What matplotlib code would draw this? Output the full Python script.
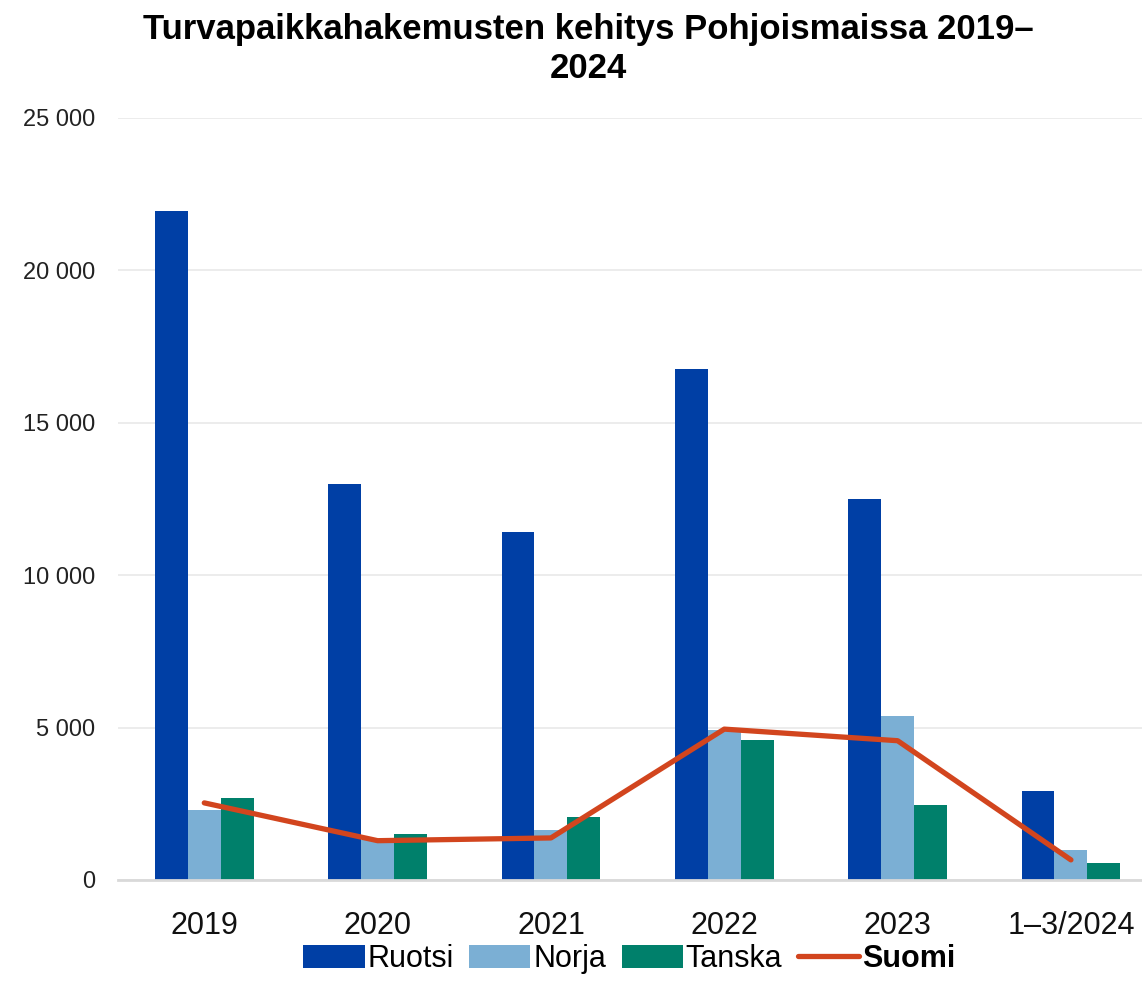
import matplotlib.pyplot as plt
import numpy as np

# Asylum applications in the Nordic countries
categories = ['2019', '2020', '2021', '2022', '2023', '1–3/2024']
ruotsi = [21960, 13000, 11420, 16770, 12500, 2920]
norja = [2300, 1300, 1640, 4920, 5380, 980]
tanska = [2700, 1510, 2080, 4590, 2470, 560]
suomi = [2530, 1290, 1380, 4950, 4570, 660]

plt.rcParams['font.family'] = ['Liberation Sans', 'DejaVu Sans']

fig = plt.figure(figsize=(11.42, 10), dpi=100)
ax = fig.add_axes([0.103, 0.12, 0.897, 0.762])

x = np.arange(len(categories))
w = 0.19
b1 = ax.bar(x - w, ruotsi, w, color='#003FA5', label='Ruotsi', zorder=2)
b2 = ax.bar(x, norja, w, color='#7BAFD4', label='Norja', zorder=2)
b3 = ax.bar(x + w, tanska, w, color='#00806B', label='Tanska', zorder=2)
l1, = ax.plot(x, suomi, color='#D2451E', lw=3.8, solid_capstyle='round',
              solid_joinstyle='round', label='Suomi', zorder=3)

ax.set_ylim(0, 25000)
ax.set_xlim(-0.5, 5.41)
ax.set_yticks(range(0, 25001, 5000))
ax.set_yticklabels([f'{v:,}'.replace(',', ' ') for v in range(0, 25001, 5000)],
                   fontsize=17, color='#222222')
ax.set_xticks(x)
ax.set_xticklabels(categories, fontsize=22, color='#111111')
ax.tick_params(axis='y', length=0, pad=16)
ax.tick_params(axis='x', length=0, pad=22)
ax.yaxis.grid(True, color='#EBEBEB', lw=1.3, zorder=0)
ax.set_axisbelow(True)
for s in ['left', 'right', 'top']:
    ax.spines[s].set_visible(False)
ax.spines['bottom'].set_color('#D9D9D9')
ax.spines['bottom'].set_linewidth(2)

fig.suptitle('Turvapaikkahakemusten kehitys Pohjoismaissa 2019–\n2024',
             fontsize=25, fontweight='bold', y=0.987, x=0.515, linespacing=1.25)

leg = fig.legend([b1, b2, b3, l1], ['Ruotsi', 'Norja', 'Tanska', 'Suomi'],
                 loc='center', bbox_to_anchor=(0.551, 0.041), ncol=4, frameon=False,
                 fontsize=22, handlelength=2.0, handleheight=0.8,
                 handletextpad=0.1, columnspacing=0.5)
leg.get_texts()[3].set_fontweight('bold')

fig.savefig('out.png', dpi=100)
